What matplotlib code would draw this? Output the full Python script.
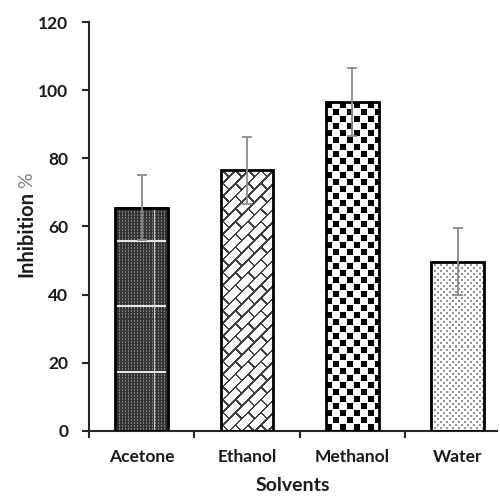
import matplotlib.pyplot as plt
import numpy as np

# Datos
disolventes = ['Acetone', 'Ethanol', 'Methanol', 'Water']
inhibicion = [65.5, 76.5, 96.5, 49.7]
error = [9.6, 9.8, 10.0, 9.8]

plt.rcParams['font.family'] = ['Lato', 'DejaVu Sans']


# Texturas de relleno (en pixeles de la barra)
def textura(nombre, w, h):
    y, x = np.mgrid[0:h, 0:w]
    if nombre == 'Acetone':
        img = np.full((h, w), 0.2)
        img[(x % 3 == 1) & (y % 3 != 0)] = 0.5
        fila = h - 1 - y
        img[((fila - 58) % 65 < 2) & (fila > 50) & (x > 1) & (x < w - 2)] = 0.9
        img[x == int(w * 0.75)] = 0.8
    elif nombre == 'Ethanol':
        u = (x - y) / np.sqrt(2)
        v = (x + y) / np.sqrt(2)
        fila = np.floor(v / 9)
        img = np.ones((h, w))
        linea = (v % 9 < 1.8) | (((u + 9 * (fila % 2)) % 18) < 1.8)
        img[linea] = 0.25
    elif nombre == 'Methanol':
        c = 7.0
        cx = np.floor(x / c)
        cy = np.floor(y / c)
        dentro = ((x % c) < 5.8) & ((y % c) < 5.8)
        img = np.ones((h, w))
        img[(((cx + cy) % 2) == 0) & dentro] = 0.0
    else:
        img = np.ones((h, w))
        pts = ((x % 6 < 2) & (y % 6 < 2)) | (((x + 3) % 6 < 2) & ((y + 3) % 6 < 2))
        img[pts] = 0.58
    return img


fig = plt.figure(figsize=(5, 4.99), dpi=100)
ax = fig.add_axes([0.178, 0.1363, 0.816, 0.8196])

pos = np.arange(len(disolventes))
barras = ax.bar(pos, inhibicion, width=0.5, color='none', edgecolor='black',
                linewidth=2, zorder=3)
ax.errorbar(pos, inhibicion, yerr=error, fmt='none', ecolor='#8a8a8a',
            elinewidth=1.3, capsize=3.6, capthick=1.3, zorder=4)

ax.set_xlim(-0.5, 3.375)
ax.set_ylim(0, 120)
ax.set_autoscale_on(False)

# Rellenar cada barra con su textura
fig.canvas.draw()
for nombre, b in zip(disolventes, barras):
    bb = b.get_window_extent()
    w = int(round(bb.width))
    h = int(round(bb.height))
    ax.imshow(textura(nombre, w, h), cmap='gray', vmin=0, vmax=1,
              extent=(b.get_x(), b.get_x() + b.get_width(), 0, b.get_height()),
              aspect='auto', interpolation='nearest', zorder=2)

# Ejes
for lado in ['top', 'right']:
    ax.spines[lado].set_visible(False)
for lado in ['left', 'bottom']:
    ax.spines[lado].set_color('#262626')
    ax.spines[lado].set_linewidth(1.5)

ax.set_yticks(range(0, 121, 20))
ax.set_xticks(pos)
ax.set_xticklabels(disolventes)
ax.set_xticks([-0.5, 0.5, 1.5, 2.5], minor=True)
ax.tick_params(axis='x', which='major', length=0, pad=13, labelsize=12.5)
ax.tick_params(axis='x', which='minor', length=5, width=1.5, color='#262626')
ax.tick_params(axis='y', length=5, width=1.5, color='#262626', pad=10,
               labelsize=12.5)
for t in ax.get_xticklabels() + ax.get_yticklabels():
    t.set_fontweight('bold')
    t.set_color('#1a1a1a')

ax.set_xlabel('Solvents', fontsize=14, fontweight='bold', color='#1a1a1a')
ax.xaxis.set_label_coords(0.5, -0.112)
ax.set_ylabel('Inhibition', fontsize=14.5, fontweight='bold', color='#1a1a1a')
ax.yaxis.set_label_coords(-0.128, 0.482)
ax.annotate('%', xy=(0.5, 1), xycoords=ax.yaxis.label, xytext=(0, 2),
            textcoords='offset points', rotation=90, ha='center', va='bottom',
            fontsize=14, color='#808080')

fig.savefig('out.png', dpi=100)
